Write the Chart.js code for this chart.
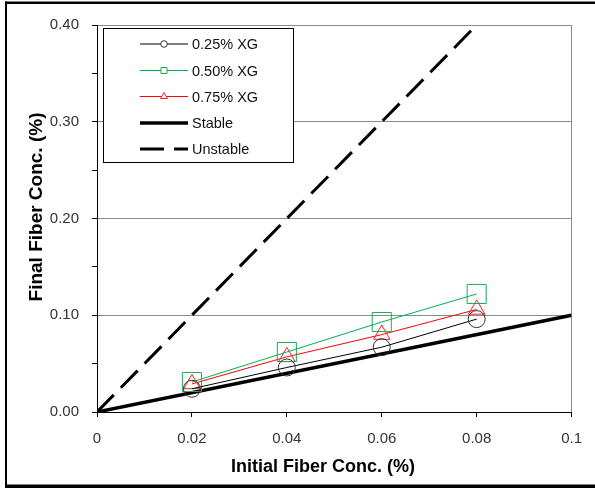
<!DOCTYPE html>
<html>
<head>
<meta charset="utf-8" />
<title>Final vs Initial Fiber Concentration</title>
<script src="https://cdn.jsdelivr.net/npm/chart.js@4.4.1/dist/chart.umd.min.js"></script>
<style>
  html, body { margin: 0; padding: 0; background: #fff; }
  canvas { display: block; }
</style>
</head>
<body>
<canvas id="fiberChart" width="595" height="488"></canvas>
<script>
// measured points (x = initial fiber conc. %, y = final fiber conc. %)
const initialConc = [0.02, 0.04, 0.06, 0.08];
const xg025 = [0.024, 0.046, 0.067, 0.096];
const xg050 = [0.031, 0.062, 0.093, 0.122];
const xg075 = [0.029, 0.057, 0.080, 0.106];

// reference lines
const stableX = [0, 0.1];
const stableY = [0, 0.1];
const unstableX = [0, 0.08];
const unstableY = [0, 0.4];

const xTickLabels = ["0", "0.02", "0.04", "0.06", "0.08", "0.1"];
const yTickLabels = ["0.00", "0.10", "0.20", "0.30", "0.40"];

const toPoints = (xs, ys) => xs.map((x, i) => ({ x: x, y: ys[i] }));

const FONT = "'Liberation Sans', Arial, sans-serif";

// legend box, axis titles and outer frame
const decorPlugin = {
  id: "decor",
  afterDraw(chart) {
    const ctx = chart.ctx;
    ctx.save();

    // outer frame
    ctx.fillStyle = "#000";
    ctx.fillRect(5, 1.5, 590, 2.5);
    ctx.fillRect(5, 1.5, 2, 486);
    ctx.fillRect(5, 484.5, 590, 3.5);

    // axis titles
    ctx.fillStyle = "#000";
    ctx.font = "bold 18px " + FONT;
    ctx.textAlign = "center";
    ctx.textBaseline = "alphabetic";
    ctx.fillText("Initial Fiber Conc. (%)", 323, 472);
    ctx.save();
    ctx.translate(42, 207);
    ctx.rotate(-Math.PI / 2);
    ctx.font = "bold 19px " + FONT;
    ctx.fillText("Final Fiber Conc. (%)", 0, 0);
    ctx.restore();

    // legend
    const lx = 103.5, ly = 28.5, lw = 190, lh = 134;
    ctx.fillStyle = "#fff";
    ctx.fillRect(lx, ly, lw, lh);
    ctx.strokeStyle = "#000";
    ctx.lineWidth = 1;
    ctx.strokeRect(lx, ly, lw, lh);

    const rowY = [44, 70.5, 96.5, 123, 149];
    chart.data.datasets.forEach((ds, i) => {
      const y = rowY[i];
      ctx.save();
      ctx.strokeStyle = ds.borderColor;
      ctx.lineWidth = ds.borderWidth;
      ctx.setLineDash(ds.borderDash || []);
      ctx.beginPath();
      ctx.moveTo(140, y);
      ctx.lineTo(188, y);
      ctx.stroke();
      ctx.setLineDash([]);
      if (ds.legendMarker) {
        ctx.strokeStyle = ds.pointBorderColor;
        ctx.lineWidth = 1;
        ctx.fillStyle = "#fff";
        ctx.beginPath();
        if (ds.pointStyle === "circle") {
          ctx.arc(164, y, 3.3, 0, Math.PI * 2);
        } else if (ds.pointStyle === "rect") {
          ctx.rect(161, y - 3, 6, 6);
        } else {
          ctx.moveTo(164, y - 4);
          ctx.lineTo(167.5, y + 2);
          ctx.lineTo(160.5, y + 2);
          ctx.closePath();
        }
        ctx.fill();
        ctx.stroke();
      }
      ctx.restore();
      ctx.fillStyle = "#111";
      ctx.font = "14.5px " + FONT;
      ctx.textAlign = "left";
      ctx.textBaseline = "middle";
      ctx.fillText(ds.label, 192, y + 1);
    });

    ctx.restore();
  },
};

const ctxFiber = document.getElementById("fiberChart").getContext("2d");
new Chart(ctxFiber, {
  type: "line",
  data: {
    datasets: [
      {
        label: "0.25% XG",
        data: toPoints(initialConc, xg025),
        borderColor: "#000000",
        borderWidth: 1,
        pointStyle: "circle",
        pointRadius: 8.5,
        pointBorderColor: "#333333",
        pointBorderWidth: 1,
        pointBackgroundColor: "rgba(0,0,0,0)",
        legendMarker: true,
      },
      {
        label: "0.50% XG",
        data: toPoints(initialConc, xg050),
        borderColor: "#00b050",
        borderWidth: 1,
        pointStyle: "rect",
        pointRadius: 13.5,
        pointBorderColor: "#1fa855",
        pointBorderWidth: 1,
        pointBackgroundColor: "rgba(0,0,0,0)",
        legendMarker: true,
      },
      {
        label: "0.75% XG",
        data: toPoints(initialConc, xg075),
        borderColor: "#ff0000",
        borderWidth: 1,
        pointStyle: "triangle",
        pointRadius: 9.5,
        pointBorderColor: "#ff2020",
        pointBorderWidth: 1,
        pointBackgroundColor: "rgba(0,0,0,0)",
        legendMarker: true,
      },
      {
        label: "Stable",
        data: toPoints(stableX, stableY),
        borderColor: "#000000",
        borderWidth: 3.5,
        pointRadius: 0,
      },
      {
        label: "Unstable",
        data: toPoints(unstableX, unstableY),
        borderColor: "#000000",
        borderWidth: 3,
        borderDash: [24, 10],
        pointRadius: 0,
      },
    ],
  },
  options: {
    responsive: false,
    animation: false,
    devicePixelRatio: 1,
    layout: {
      padding: { left: 0, top: 25, right: 20, bottom: 0 },
    },
    elements: {
      line: { tension: 0, fill: false },
    },
    plugins: {
      legend: { display: false },
      tooltip: { enabled: false },
    },
    scales: {
      x: {
        type: "linear",
        min: 0,
        max: 0.1,
        afterFit: (scale) => {
          scale.height = 76;
        },
        border: { color: "#000", width: 1 },
        grid: {
          color: (c) =>
            c.tick && Math.abs(c.tick.value - 0.1) < 1e-9 ? "#8c8c8c" : "rgba(0,0,0,0)",
          tickColor: "#000",
          tickLength: 5,
        },
        ticks: {
          stepSize: 0.02,
          padding: 13,
          color: "#333",
          font: { family: FONT, size: 15 },
          maxRotation: 0,
          callback: (value, index) => xTickLabels[index],
        },
      },
      y: {
        min: 0,
        max: 0.4,
        afterFit: (scale) => {
          scale.width = 97;
        },
        border: { color: "#000", width: 1 },
        grid: {
          color: (c) => {
            if (!c.tick) return "rgba(0,0,0,0)";
            const step = Math.round(c.tick.value * 20);
            return step > 0 && step % 2 === 0 ? "#8c8c8c" : "rgba(0,0,0,0)";
          },
          tickColor: "#000",
          tickLength: 5,
        },
        ticks: {
          stepSize: 0.05,
          padding: 13,
          color: "#333",
          font: { family: FONT, size: 15 },
          callback: (value) => {
            const step = Math.round(value * 20);
            return step % 2 === 0 ? yTickLabels[step / 2] : "";
          },
        },
      },
    },
  },
  plugins: [decorPlugin],
});
</script>
</body>
</html>
